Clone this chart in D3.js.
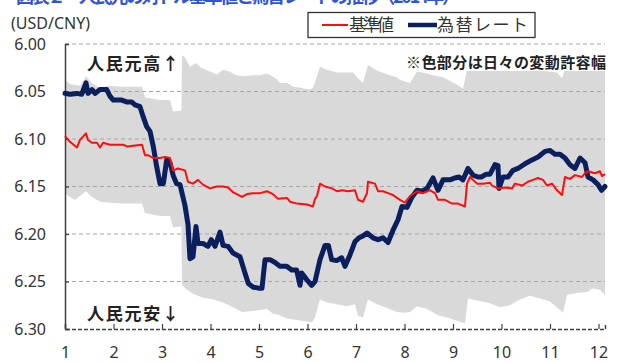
<!DOCTYPE html>
<html><head><meta charset="utf-8">
<script src="https://cdn.jsdelivr.net/npm/d3@7"></script>
<style>body{margin:0;background:#fff} svg{display:block}</style>
</head><body><svg id="c" width="621" height="362"></svg>
<script>
// ---- data (month position, USD/CNY) ----
const monthTicks = [1,2,3,4,5,6,7,8,9,10,11,12];
const yTicks = [6.00,6.05,6.10,6.15,6.20,6.25,6.30];
const seriesNames = ["基準値","為替レート"];

const parity = [[1.000,6.097],[1.103,6.103],[1.247,6.109],[1.309,6.101],[1.433,6.094],[1.474,6.101],[1.557,6.104],[1.660,6.104],[1.722,6.109],[1.784,6.104],[1.928,6.106],[2.072,6.106],[2.196,6.106],[2.299,6.108],[2.402,6.107],[2.588,6.106],[2.649,6.117],[2.711,6.117],[2.814,6.120],[2.959,6.120],[3.062,6.119],[3.165,6.120],[3.227,6.133],[3.330,6.131],[3.474,6.133],[3.536,6.145],[3.639,6.147],[3.742,6.143],[3.845,6.148],[3.990,6.152],[4.134,6.150],[4.258,6.150],[4.361,6.151],[4.464,6.156],[4.649,6.161],[4.753,6.158],[4.876,6.157],[5.021,6.157],[5.165,6.155],[5.289,6.158],[5.392,6.163],[5.577,6.162],[5.639,6.166],[5.784,6.168],[5.990,6.169],[6.113,6.171],[6.155,6.163],[6.196,6.160],[6.258,6.147],[6.361,6.150],[6.505,6.152],[6.608,6.155],[6.711,6.154],[6.835,6.155],[6.979,6.154],[7.041,6.164],[7.144,6.166],[7.227,6.157],[7.247,6.145],[7.392,6.147],[7.454,6.155],[7.557,6.155],[7.660,6.157],[7.763,6.159],[7.907,6.164],[8.010,6.167],[8.113,6.160],[8.258,6.155],[8.381,6.157],[8.526,6.154],[8.629,6.157],[8.691,6.164],[8.835,6.164],[8.979,6.168],[9.103,6.168],[9.247,6.171],[9.289,6.147],[9.351,6.140],[9.495,6.147],[9.619,6.147],[9.763,6.146],[9.804,6.149],[9.928,6.152],[10.072,6.151],[10.216,6.152],[10.278,6.147],[10.423,6.149],[10.546,6.145],[10.649,6.143],[10.753,6.141],[10.856,6.143],[10.938,6.149],[11.041,6.147],[11.144,6.154],[11.247,6.159],[11.309,6.140],[11.412,6.142],[11.515,6.138],[11.660,6.140],[11.722,6.136],[11.784,6.134],[11.928,6.136],[12.031,6.134],[12.072,6.139],[12.134,6.137]];

const rate = [[1.000,6.052],[1.103,6.053],[1.247,6.052],[1.344,6.053],[1.433,6.041],[1.474,6.052],[1.557,6.048],[1.619,6.052],[1.722,6.048],[1.860,6.048],[1.928,6.055],[1.996,6.059],[2.169,6.059],[2.271,6.061],[2.374,6.061],[2.443,6.064],[2.546,6.066],[2.615,6.077],[2.684,6.087],[2.753,6.092],[2.821,6.108],[2.890,6.129],[2.959,6.147],[3.028,6.147],[3.096,6.122],[3.165,6.125],[3.234,6.139],[3.302,6.147],[3.371,6.148],[3.474,6.170],[3.536,6.190],[3.577,6.226],[3.639,6.224],[3.701,6.192],[3.742,6.210],[3.845,6.210],[3.948,6.213],[4.017,6.206],[4.093,6.213],[4.196,6.198],[4.258,6.212],[4.361,6.213],[4.464,6.220],[4.608,6.224],[4.711,6.241],[4.780,6.252],[4.883,6.256],[4.993,6.257],[5.062,6.257],[5.124,6.227],[5.227,6.227],[5.330,6.230],[5.433,6.234],[5.570,6.234],[5.674,6.238],[5.777,6.238],[5.845,6.254],[5.880,6.241],[5.983,6.248],[6.086,6.254],[6.155,6.250],[6.258,6.227],[6.361,6.212],[6.430,6.212],[6.498,6.227],[6.601,6.228],[6.704,6.225],[6.773,6.234],[6.876,6.222],[6.979,6.208],[7.062,6.204],[7.144,6.202],[7.227,6.199],[7.351,6.204],[7.454,6.206],[7.557,6.204],[7.660,6.209],[7.763,6.196],[7.866,6.185],[7.948,6.171],[8.052,6.172],[8.155,6.161],[8.258,6.154],[8.361,6.155],[8.464,6.152],[8.588,6.141],[8.691,6.154],[8.794,6.143],[8.938,6.143],[9.041,6.141],[9.124,6.140],[9.206,6.143],[9.309,6.131],[9.412,6.138],[9.515,6.140],[9.584,6.140],[9.687,6.137],[9.763,6.137],[9.866,6.127],[9.928,6.128],[9.948,6.152],[10.031,6.140],[10.134,6.140],[10.237,6.133],[10.340,6.131],[10.485,6.126],[10.629,6.122],[10.753,6.119],[10.897,6.113],[11.000,6.112],[11.103,6.116],[11.206,6.116],[11.309,6.120],[11.412,6.127],[11.515,6.131],[11.619,6.120],[11.722,6.125],[11.784,6.140],[11.887,6.143],[11.990,6.148],[12.062,6.154],[12.134,6.150]];

const bandUpper = [[1.000,6.038],[1.103,6.042],[1.309,6.044],[1.433,6.034],[1.557,6.041],[1.722,6.046],[1.928,6.044],[2.196,6.045],[2.588,6.045],[2.649,6.056],[2.959,6.059],[3.165,6.059],[3.227,6.071],[3.400,6.070],[3.412,6.012],[3.474,6.014],[3.577,6.024],[3.701,6.020],[3.804,6.025],[3.990,6.029],[4.134,6.032],[4.258,6.027],[4.392,6.029],[4.533,6.033],[4.670,6.034],[4.876,6.033],[5.021,6.033],[5.165,6.031],[5.268,6.034],[5.371,6.037],[5.433,6.041],[5.577,6.041],[5.711,6.045],[5.845,6.046],[6.052,6.048],[6.113,6.046],[6.155,6.040],[6.258,6.024],[6.402,6.027],[6.608,6.030],[6.938,6.030],[7.041,6.036],[7.144,6.041],[7.247,6.022],[7.433,6.028],[7.639,6.032],[7.845,6.035],[7.907,6.038],[8.113,6.041],[8.258,6.029],[8.464,6.031],[8.588,6.033],[8.794,6.035],[8.938,6.039],[9.082,6.043],[9.206,6.047],[9.289,6.027],[9.351,6.026],[9.619,6.027],[10.072,6.028],[10.649,6.027],[11.144,6.030],[11.247,6.036],[11.309,6.026],[12.134,6.026]];

const bandLower = [[1.000,6.157],[1.103,6.161],[1.206,6.164],[1.309,6.160],[1.433,6.155],[1.557,6.161],[1.722,6.166],[1.928,6.167],[2.196,6.168],[2.402,6.168],[2.588,6.168],[2.649,6.178],[2.959,6.181],[3.165,6.181],[3.227,6.193],[3.400,6.192],[3.412,6.253],[3.474,6.257],[3.639,6.263],[3.845,6.267],[4.061,6.269],[4.258,6.272],[4.464,6.277],[4.649,6.282],[4.876,6.281],[5.021,6.280],[5.165,6.279],[5.289,6.284],[5.392,6.285],[5.577,6.289],[5.845,6.291],[6.093,6.293],[6.155,6.288],[6.258,6.269],[6.402,6.272],[6.608,6.274],[6.814,6.276],[6.979,6.274],[7.041,6.286],[7.144,6.288],[7.247,6.269],[7.433,6.274],[7.639,6.278],[7.845,6.282],[8.010,6.283],[8.113,6.282],[8.258,6.276],[8.464,6.279],[8.670,6.285],[8.876,6.288],[9.124,6.292],[9.247,6.294],[9.309,6.268],[9.495,6.270],[9.763,6.273],[9.969,6.277],[10.175,6.275],[10.381,6.269],[10.588,6.265],[10.794,6.268],[11.000,6.271],[11.206,6.280],[11.268,6.283],[11.351,6.264],[11.557,6.262],[11.763,6.261],[11.887,6.257],[12.031,6.259],[12.134,6.264]];

// ---- drawing ----
const svg = d3.select("#c");
const JP = "'Noto Sans CJK JP','Noto Sans',sans-serif";
const NUM = "'Noto Sans','Open Sans',sans-serif";
const L = 65, R = 605, T = 44, B = 329;

const x = d3.scaleLinear().domain([1, 12.134]).range([L, R]);
const y = d3.scaleLinear().domain([6.00, 6.30]).range([T, B]);

// title, cut off at the top edge as in the reference
svg.append("text").attr("x", 16).attr("y", 3)
  .attr("font-family", JP).attr("font-size", 18).attr("font-weight", "bold")
  .attr("fill", "#2f55d4").attr("textLength", 444)
  .text("図表２　人民元の対ドル基準値と為替レートの推移（2014年）");

// band polygon
const bandPts = bandUpper.concat(bandLower.slice().reverse());
svg.append("path")
  .attr("d", d3.line().x(d => x(d[0])).y(d => y(d[1]))(bandPts) + "Z")
  .attr("fill", "#d9d9d9").attr("stroke", "none");

// gridlines
svg.append("g").selectAll("line").data(yTicks.slice(0, -1)).join("line")
  .attr("x1", L).attr("x2", R).attr("y1", d => y(d)).attr("y2", d => y(d))
  .attr("stroke", "#a6a6a6").attr("stroke-width", 1).attr("stroke-dasharray", "4,3");

// note with white background
svg.append("rect").attr("x", 403).attr("y", 52).attr("width", 205).attr("height", 19).attr("fill", "#fff");
svg.append("text").attr("x", 406).attr("y", 68)
  .attr("font-family", JP).attr("font-size", 15).attr("font-weight", "bold").attr("fill", "#222")
  .attr("textLength", 200)
  .text("※色部分は日々の変動許容幅");

// axes
const yAxis = d3.axisLeft(y).tickValues(yTicks).tickSize(-4).tickFormat(d3.format(".2f")).tickPadding(20);
const gy = svg.append("g").attr("transform", `translate(${L},0)`).call(yAxis);
gy.select(".domain").attr("stroke", "#404040").attr("stroke-width", 1.5);
gy.selectAll(".tick line").attr("stroke", "#404040").attr("stroke-width", 1.2);
gy.selectAll(".tick text").attr("font-family", NUM).attr("font-size", 16).attr("fill", "#333")
  .attr("x", -19).attr("dy", "0.34em");

const xAxis = d3.axisBottom(x).tickValues(monthTicks).tickSize(-5).tickFormat(d3.format("d")).tickPadding(18);
const gx = svg.append("g").attr("transform", `translate(0,${B})`).call(xAxis);
gx.select(".domain").attr("stroke", "#404040").attr("stroke-width", 1.5).attr("stroke-dasharray", "4,2");
gx.selectAll(".tick line").attr("stroke", "#404040").attr("stroke-width", 1.2);
gx.selectAll(".tick text").attr("font-family", NUM).attr("font-size", 16).attr("fill", "#333")
  .attr("y", 18).attr("dy", "0.71em");

// lines
const line = d3.line().x(d => x(d[0])).y(d => y(d[1]));
svg.append("path").attr("d", line(rate)).attr("fill", "none")
  .attr("stroke", "#0b1f5e").attr("stroke-width", 5)
  .attr("stroke-linejoin", "round").attr("stroke-linecap", "round");
svg.append("path").attr("d", line(parity)).attr("fill", "none")
  .attr("stroke", "#ff0d0d").attr("stroke-width", 2)
  .attr("stroke-linejoin", "round");

// unit label
svg.append("text").attr("x", 11).attr("y", 29)
  .attr("font-family", NUM).attr("font-size", 16).attr("fill", "#333").text("(USD/CNY)");

// annotations
svg.append("text").attr("x", 87).attr("y", 70)
  .attr("font-family", JP).attr("font-size", 17).attr("font-weight", "bold").attr("fill", "#222")
  .attr("textLength", 92).text("人民元高↑");
svg.append("text").attr("x", 87).attr("y", 320)
  .attr("font-family", JP).attr("font-size", 17).attr("font-weight", "bold").attr("fill", "#222")
  .attr("textLength", 92).text("人民元安↓");

// legend
const lg = svg.append("g");
lg.append("rect").attr("x", 308).attr("y", 12.5).attr("width", 227).attr("height", 25)
  .attr("fill", "#fff").attr("stroke", "#333").attr("stroke-width", 1.3);
lg.append("line").attr("x1", 322).attr("x2", 348).attr("y1", 25).attr("y2", 25)
  .attr("stroke", "#ff0d0d").attr("stroke-width", 2);
lg.append("text").attr("x", 349).attr("y", 31).attr("font-family", JP).attr("font-size", 17)
  .attr("fill", "#333").attr("textLength", 45).text(seriesNames[0]);
lg.append("line").attr("x1", 408).attr("x2", 437).attr("y1", 25).attr("y2", 25)
  .attr("stroke", "#0b1f5e").attr("stroke-width", 4.5);
lg.append("text").attr("x", 437).attr("y", 31).attr("font-family", JP).attr("font-size", 17)
  .attr("fill", "#333").attr("textLength", 91).text(seriesNames[1]);
</script></body></html>
